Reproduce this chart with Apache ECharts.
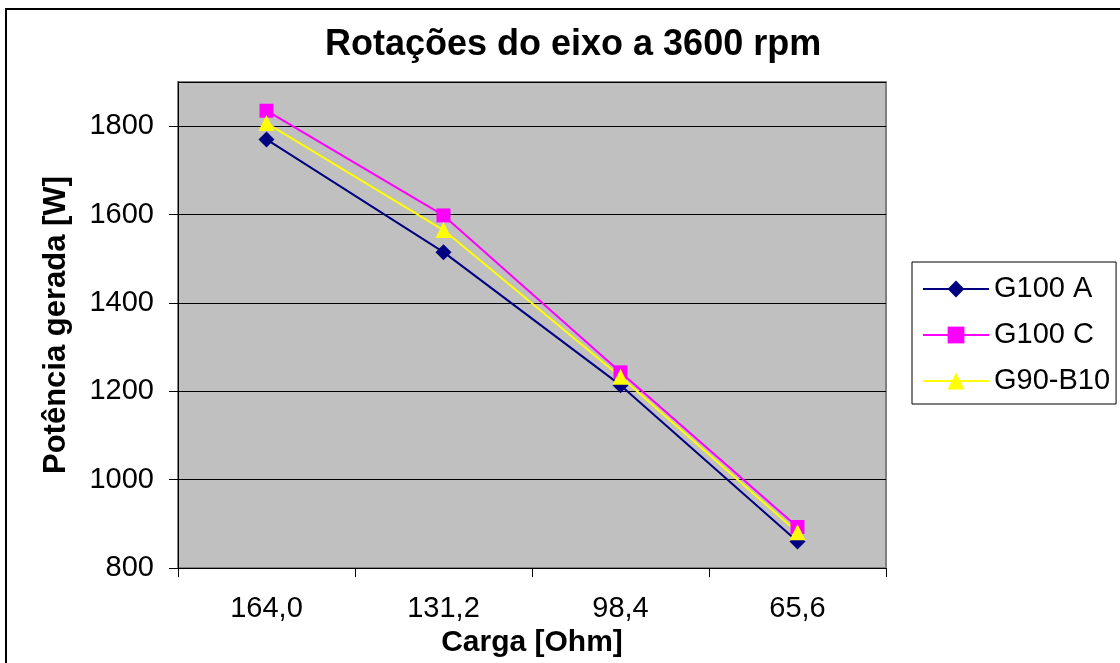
<!DOCTYPE html>
<html>
<head>
<meta charset="utf-8">
<script src="https://cdn.jsdelivr.net/npm/echarts@6/dist/echarts.min.js"></script>
<style>
  html, body { margin: 0; padding: 0; background: #fff; }
  #chart { width: 1120px; height: 663px; }
</style>
</head>
<body>
<div id="chart"></div>
<script>
const categories = ['164,0', '131,2', '98,4', '65,6']
const g100A = [1770, 1515, 1214, 860]
const g100C = [1835, 1598, 1243, 893]
const g90B10 = [1807, 1565, 1233, 881]
const seriesNames = ['G100 A', 'G100 C', 'G90-B10']

const font = '"Liberation Sans", Arial, sans-serif'
const chart = echarts.init(document.getElementById('chart'))

function lineSeries(name, data, color, symbol, size) {
  return {
    name,
    type: 'line',
    data,
    symbol,
    symbolSize: size,
    showAllSymbol: true,
    itemStyle: { color },
    lineStyle: { color, width: 2 },
    emphasis: { disabled: true },
    animation: false,
  }
}

chart.setOption({
  backgroundColor: '#fff',
  textStyle: { fontFamily: font },
  title: {
    text: 'Rotações do eixo a 3600 rpm',
    left: 325,
    top: 27,
    padding: 0,
    textStyle: { fontFamily: font, fontSize: 36, fontWeight: 'bold', color: '#000' },
  },
  graphic: [{
    type: 'rect',
    shape: { x: 6, y: 9, width: 1300, height: 1000 },
    style: { fill: 'none', stroke: '#000', lineWidth: 2 },
    silent: true,
  }],
  legend: {
    orient: 'vertical',
    left: 912,
    top: 262,
    data: seriesNames,
    itemWidth: 66,
    itemHeight: 21,
    itemGap: 16,
    padding: [12, 6, 8, 10],
    borderColor: '#000',
    borderWidth: 1,
    backgroundColor: '#fff',
    textStyle: { fontFamily: font, fontSize: 29, color: '#000', lineHeight: 30 },
  },
  grid: {
    left: 178,
    right: 234,
    top: 82,
    bottom: 93,
    show: true,
    backgroundColor: '#c0c0c0',
    borderColor: '#808080',
    borderWidth: 2,
  },
  xAxis: {
    type: 'category',
    data: categories,
    boundaryGap: true,
    name: 'Carga [Ohm]',
    nameLocation: 'middle',
    nameGap: 57,
    nameTextStyle: { fontFamily: font, fontSize: 30, fontWeight: 'bold', color: '#000' },
    axisLine: { lineStyle: { color: '#000', width: 1 } },
    axisTick: { show: true, length: 9, lineStyle: { color: '#000' } },
    axisLabel: { fontFamily: font, fontSize: 29, color: '#000', margin: 26 },
  },
  yAxis: {
    type: 'value',
    min: 800,
    max: 1900,
    interval: 200,
    name: 'Potência gerada [W]',
    nameLocation: 'middle',
    nameGap: 106,
    nameTextStyle: { fontFamily: font, fontSize: 31, fontWeight: 'bold', color: '#000' },
    axisLine: { show: true, lineStyle: { color: '#000', width: 1 } },
    axisTick: { show: true, length: 9, lineStyle: { color: '#000' } },
    axisLabel: {
      fontFamily: font, fontSize: 29, color: '#000', margin: 24, showMaxLabel: false,
      formatter: (v) => String(v),
    },
    splitLine: { lineStyle: { color: '#000', width: 1 } },
  },
  series: [
    lineSeries(seriesNames[0], g100A, '#000080', 'diamond', 16),
    lineSeries(seriesNames[1], g100C, '#ff00ff', 'rect', 14),
    lineSeries(seriesNames[2], g90B10, '#ffff00', 'triangle', 16),
  ],
})
</script>
</body>
</html>
